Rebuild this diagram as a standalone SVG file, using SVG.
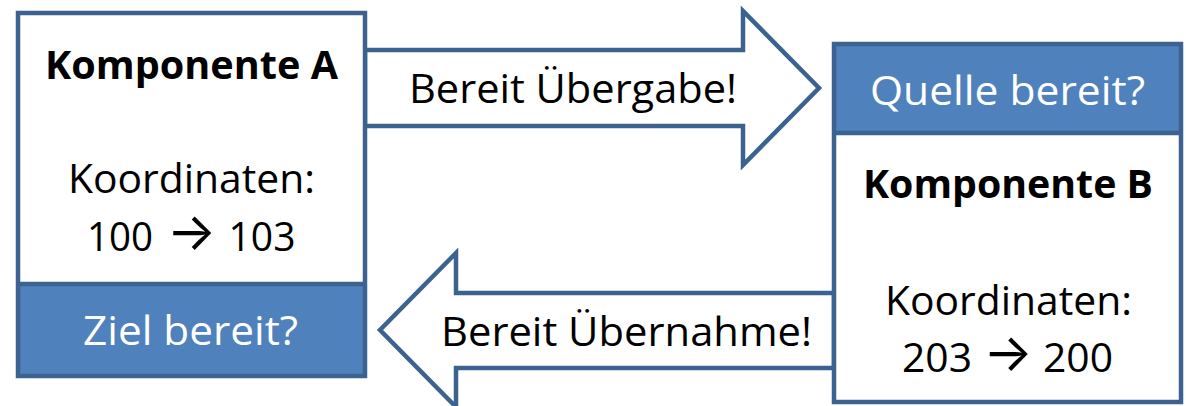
<svg xmlns="http://www.w3.org/2000/svg" width="1186" height="406" viewBox="0 0 1186 406">
<style>
.st{stroke:#3C6290;stroke-width:4.5;stroke-linejoin:miter}
.box{fill:#FFFFFF}
.band{fill:#4F81BD}
.t{font-family:"Open Sans","Liberation Sans",sans-serif;font-size:40px;fill:#000;text-anchor:middle}
.b{font-weight:700}
.w{fill:#FFFFFF}
.ar{font-family:Inter,"DejaVu Sans",sans-serif;font-size:52px}
</style>
<rect width="1186" height="406" fill="#FFFFFF"/>
<g id="connectors">
  <g id="arrow-uebergabe">
    <polygon class="st box" points="365,50 743,50 743,11 819,88 743,165 743,126 365,126"/>
    <text class="t" x="573" y="103" textLength="328" lengthAdjust="spacingAndGlyphs">Bereit Übergabe!</text>
  </g>
  <g id="arrow-uebernahme">
    <polygon class="st box" points="834,293 456,293 456,253 380,330 456,407 456,368 834,368"/>
    <text class="t" x="626.5" y="346" textLength="371" lengthAdjust="spacingAndGlyphs">Bereit Übernahme!</text>
  </g>
</g>
<g id="komponente-a">
  <rect class="box" x="18" y="13" width="347" height="363"/>
  <rect class="band" x="18" y="284" width="347" height="92"/>
  <line class="st" x1="18" y1="284" x2="365" y2="284"/>
  <rect class="st" x="18" y="13" width="347" height="363" fill="none"/>
  <text class="t b" x="191.5" y="79" textLength="293" lengthAdjust="spacingAndGlyphs">Komponente A</text>
  <text class="t" x="191.5" y="193" textLength="247" lengthAdjust="spacingAndGlyphs">Koordinaten:</text>
  <text class="t" y="251"><tspan x="120" textLength="66" lengthAdjust="spacingAndGlyphs">100</tspan><tspan class="ar" x="191.5" y="250">→</tspan><tspan x="262" y="251" textLength="67" lengthAdjust="spacingAndGlyphs">103</tspan></text>
  <text class="t w" x="190.5" y="345" textLength="215" lengthAdjust="spacingAndGlyphs">Ziel bereit?</text>
</g>
<g id="komponente-b">
  <rect class="box" x="834" y="44" width="347" height="358"/>
  <rect class="band" x="834" y="44" width="347" height="89"/>
  <line class="st" x1="834" y1="133" x2="1181" y2="133"/>
  <rect class="st" x="834" y="44" width="347" height="358" fill="none"/>
  <text class="t w" x="1007.5" y="105" textLength="275" lengthAdjust="spacingAndGlyphs">Quelle bereit?</text>
  <text class="t b" x="1008" y="198" textLength="290" lengthAdjust="spacingAndGlyphs">Komponente B</text>
  <text class="t" x="1008.5" y="315" textLength="247" lengthAdjust="spacingAndGlyphs">Koordinaten:</text>
  <text class="t" y="372"><tspan x="937" textLength="70" lengthAdjust="spacingAndGlyphs">203</tspan><tspan class="ar" x="1008" y="371">→</tspan><tspan x="1078" y="372" textLength="70" lengthAdjust="spacingAndGlyphs">200</tspan></text>
</g>
</svg>
